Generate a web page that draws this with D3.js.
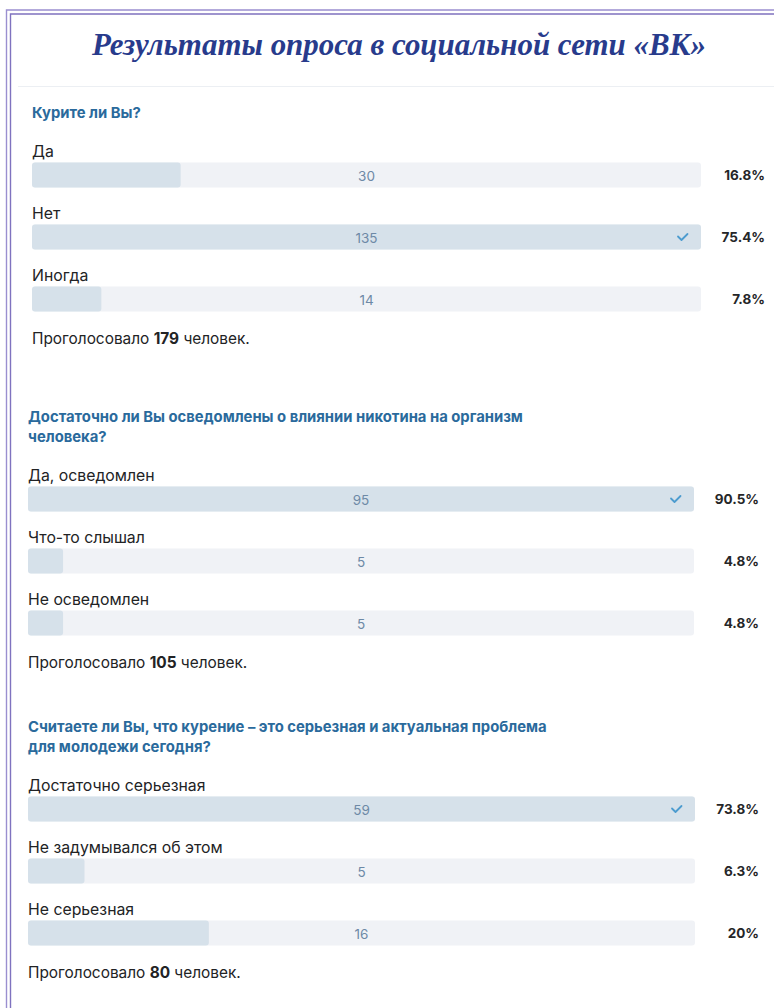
<!DOCTYPE html>
<html>
<head>
<meta charset="utf-8">
<script src="https://cdn.jsdelivr.net/npm/d3@7"></script>
<style>
  html, body { margin: 0; padding: 0; background: #fff; }
</style>
</head>
<body>
<div class="vis-polls"></div>
<script>
const pageTitle = "Результаты опроса в социальной сети «ВК»";

const questions = [
    ["Курите ли Вы?"],
    ["Достаточно ли Вы осведомлены о влиянии никотина на организм", "человека?"],
    ["Считаете ли Вы, что курение – это серьезная и актуальная проблема", "для молодежи сегодня?"]
];
const options = [
    ["Да", "Нет", "Иногда"],
    ["Да, осведомлен", "Что-то слышал", "Не осведомлен"],
    ["Достаточно серьезная", "Не задумывался об этом", "Не серьезная"]
];
const votes = [
    [30, 135, 14],
    [95, 5, 5],
    [59, 5, 16]
];
const percentLabels = [
    ["16.8%", "75.4%", "7.8%"],
    ["90.5%", "4.8%", "4.8%"],
    ["73.8%", "6.3%", "20%"]
];
const totals = [179, 105, 80];
const checked = [1, 0, 0];

// where each poll block sits on the page
const layout = [
    { left: 32, right: 701, pctRight: 765, qTop: 113 },
    { left: 28, right: 694, pctRight: 759, qTop: 417 },
    { left: 28, right: 695, pctRight: 759, qTop: 727 }
];

const draw = () => {
    const width = 774, height = 1008;
    const font = "Inter, 'Noto Sans', sans-serif";

    d3.select('.vis-polls > *').remove();
    const svg = d3.select('.vis-polls')
        .append('svg')
        .attr('width', width)
        .attr('height', height);

    // double purple frame (top + left only)
    svg.append('path')
        .attr('d', 'M6.5,' + height + ' V10 H' + width)
        .attr('fill', 'none')
        .attr('stroke', '#9a8fd0')
        .attr('stroke-width', 1.4);
    svg.append('path')
        .attr('d', 'M10.5,' + height + ' V14 H' + width)
        .attr('fill', 'none')
        .attr('stroke', '#7f72bf')
        .attr('stroke-width', 1.4);

    svg.append('text')
        .text(pageTitle)
        .attr('x', 92)
        .attr('y', 55)
        .attr('textLength', 614)
        .attr('lengthAdjust', 'spacingAndGlyphs')
        .style('font-family', "'Liberation Serif', 'DejaVu Serif', serif")
        .style('font-style', 'italic')
        .style('font-weight', 'bold')
        .style('font-size', '31px')
        .attr('fill', '#283b8c');

    svg.append('line')
        .attr('x1', 18).attr('x2', width)
        .attr('y1', 86.5).attr('y2', 86.5)
        .attr('stroke', '#eceff3');

    layout.forEach((box, p) => {
        const g = svg.append('g');
        const vals = votes[p];

        g.selectAll('.question')
            .data(questions[p])
            .enter().append('text')
            .attr('class', 'question')
            .attr('x', box.left)
            .attr('y', (d, i) => box.qTop + i * 20)
            .attr('dominant-baseline', 'central')
            .text(d => d)
            .style('font-family', font)
            .style('font-weight', 'bold')
            .style('font-size', '14.8px')
            .attr('fill', '#2a6a9c');

        const lastQ = box.qTop + (questions[p].length - 1) * 20;
        const barH = 25;

        let y = d3.scaleLinear()
            .domain([0, 1])
            .range([lastQ + 49.5, lastQ + 49.5 + 62]);

        let x = d3.scaleLinear()
            .domain([0, d3.max(vals)])
            .range([0, box.right - box.left]);

        const rows = g.selectAll('.row')
            .data(vals)
            .enter().append('g')
            .attr('class', 'row')
            .attr('transform', (d, i) => 'translate(' + box.left + ',' + y(i) + ')');

        rows.append('rect')
            .attr('width', x(d3.max(vals)))
            .attr('height', barH)
            .attr('rx', 3)
            .attr('fill', '#f0f2f6');

        rows.append('rect')
            .attr('width', d => x(d))
            .attr('height', barH)
            .attr('rx', 3)
            .attr('fill', '#d6e1ea');

        rows.append('text')
            .text((d, i) => options[p][i])
            .attr('x', 0)
            .attr('y', -11.5)
            .attr('dominant-baseline', 'central')
            .style('font-family', font)
            .style('font-size', '15.8px')
            .attr('fill', '#222325');

        rows.append('text')
            .text(d => d)
            .attr('x', (box.right - box.left) / 2)
            .attr('y', barH / 2 + 0.5)
            .attr('text-anchor', 'middle')
            .attr('dominant-baseline', 'central')
            .style('font-family', font)
            .style('font-size', '13.5px')
            .attr('fill', '#6d89a6');

        rows.append('text')
            .text((d, i) => percentLabels[p][i])
            .attr('x', box.pctRight - box.left)
            .attr('y', barH / 2)
            .attr('text-anchor', 'end')
            .attr('dominant-baseline', 'central')
            .style('font-family', font)
            .style('font-weight', 'bold')
            .style('font-size', '13.5px')
            .attr('fill', '#252628');

        rows.filter((d, i) => i === checked[p])
            .append('path')
            .attr('d', d3.line()([[0, 0], [3.5, 3.5], [9.5, -2.5]]))
            .attr('transform', 'translate(' + (box.right - box.left - 23) + ',' + (barH / 2 - 0.5) + ')')
            .attr('fill', 'none')
            .attr('stroke', '#4d9ccf')
            .attr('stroke-width', 1.8)
            .attr('stroke-linecap', 'round')
            .attr('stroke-linejoin', 'round');

        const total = g.append('text')
            .attr('x', box.left)
            .attr('y', y(2) + 51)
            .attr('dominant-baseline', 'central')
            .style('font-family', font)
            .style('font-size', '15.4px')
            .attr('fill', '#222325');
        total.append('tspan').text('Проголосовало ');
        total.append('tspan').text(totals[p]).style('font-weight', 'bold');
        total.append('tspan').text(' человек.');
    });
};

draw();
</script>
</body>
</html>
